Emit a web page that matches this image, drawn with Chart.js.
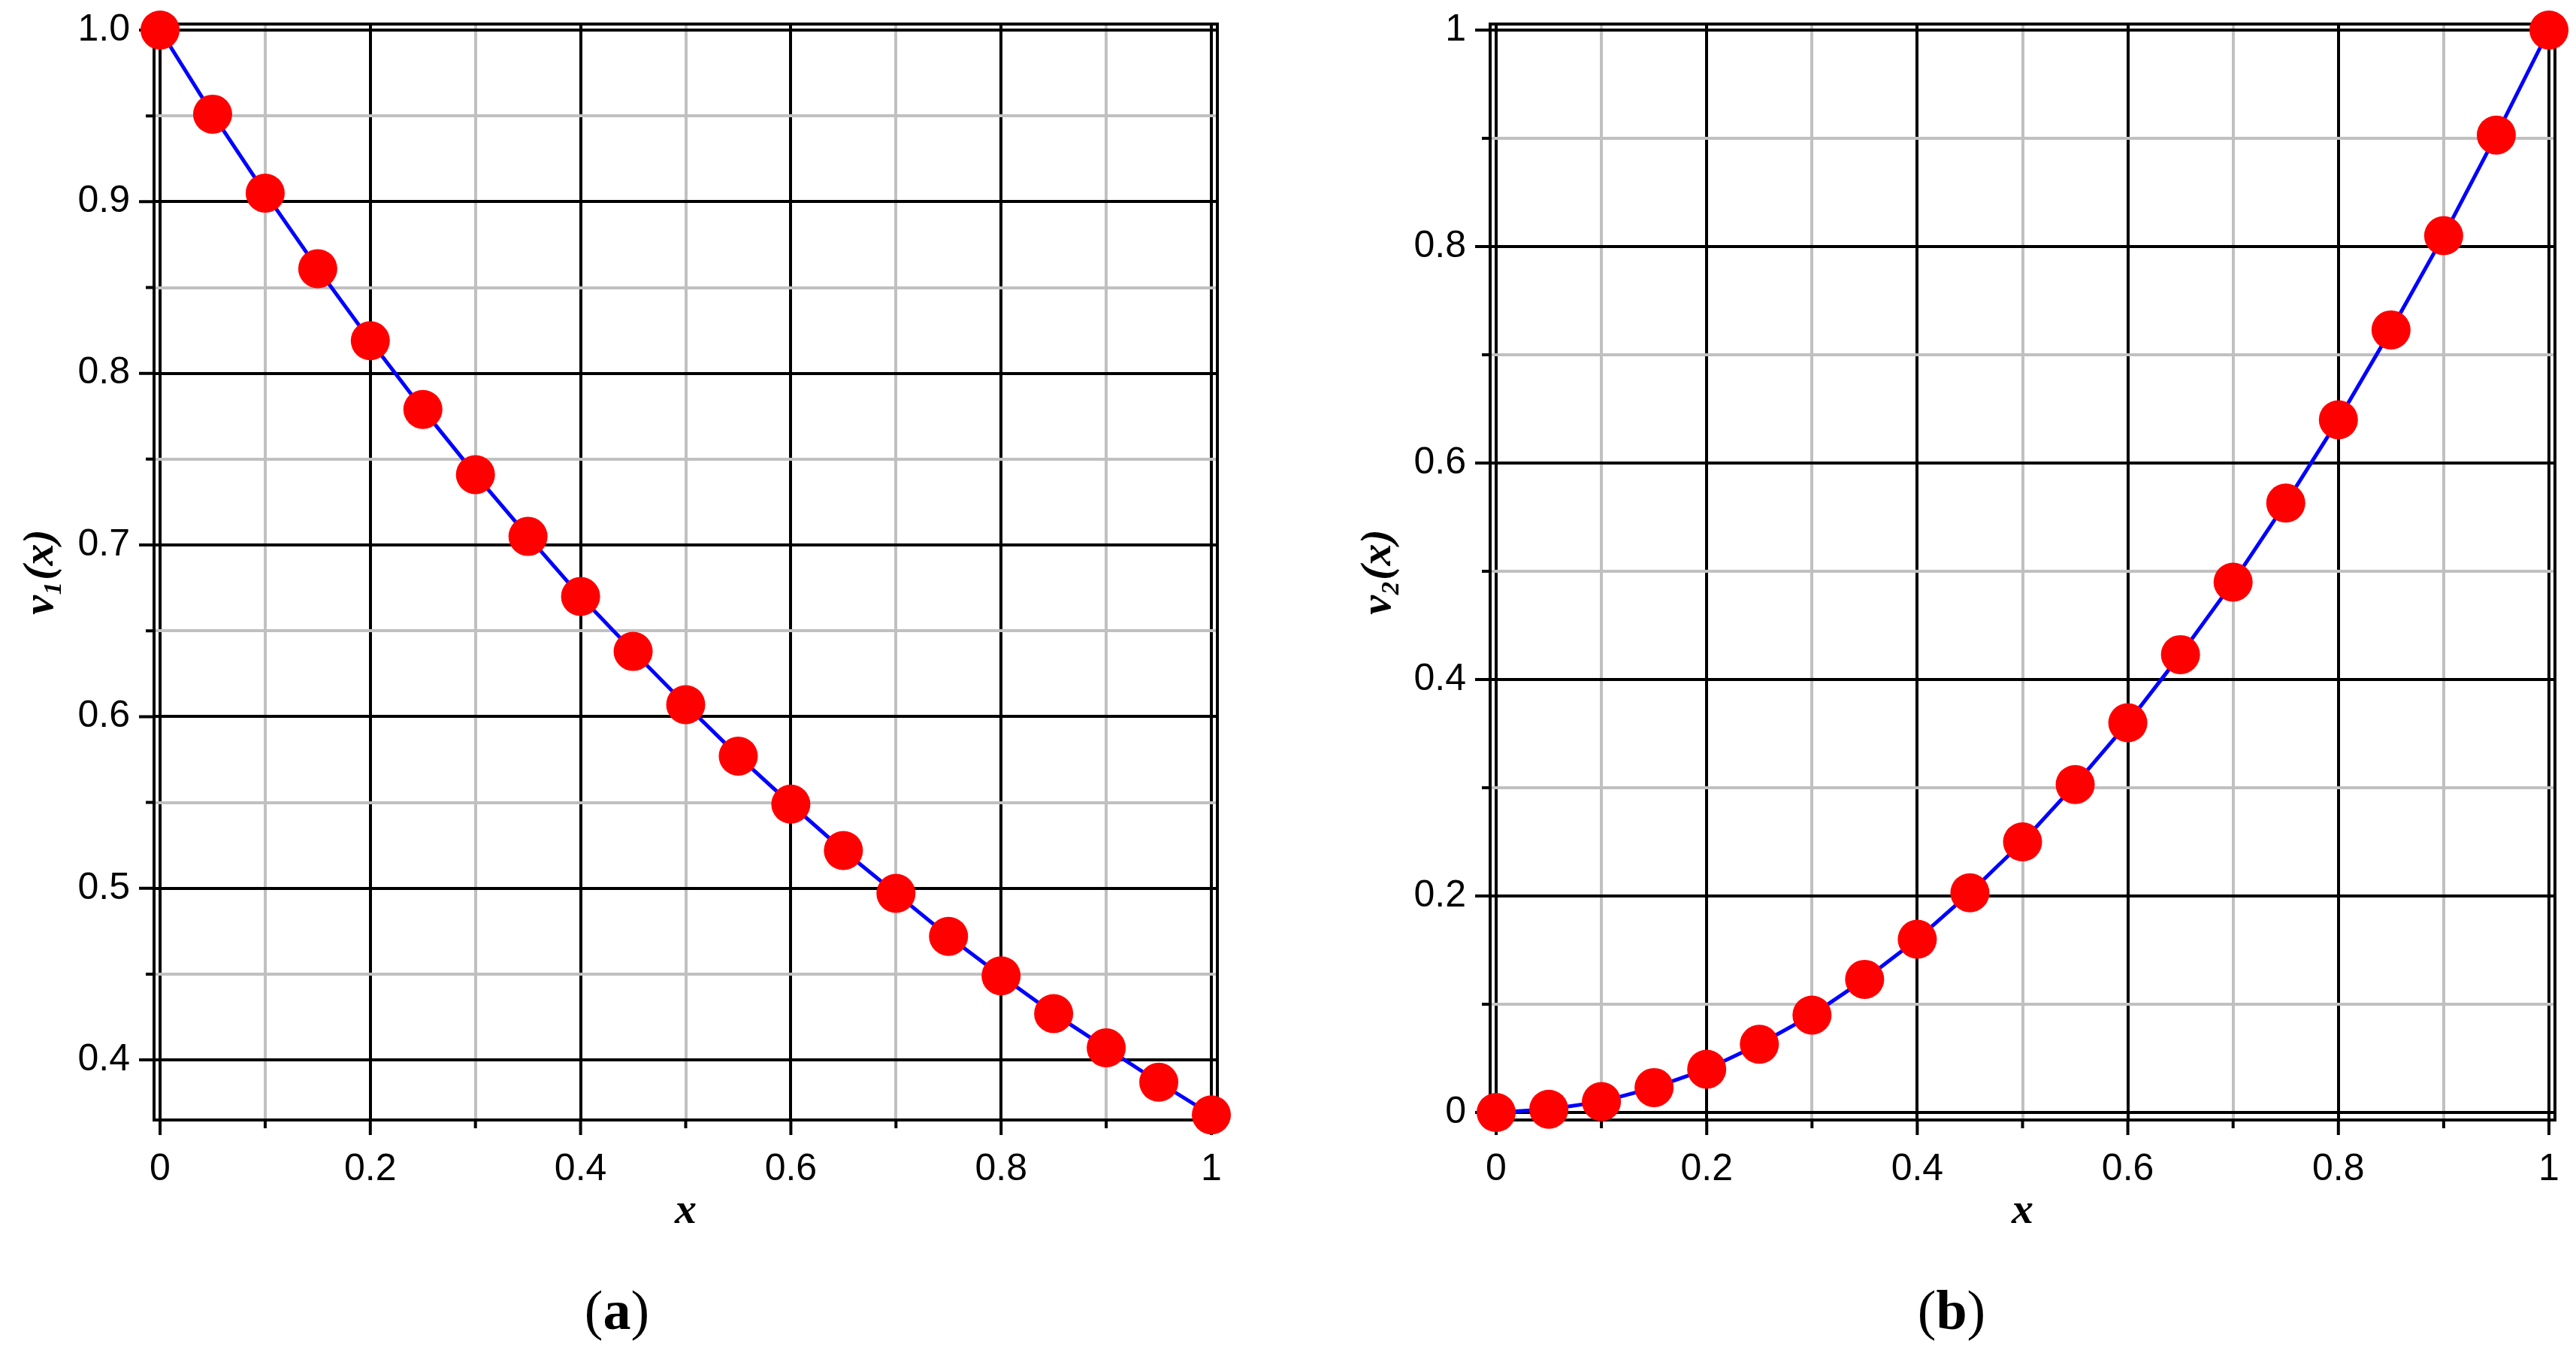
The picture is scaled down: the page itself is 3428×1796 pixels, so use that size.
<!DOCTYPE html>
<html>
<head>
<meta charset="utf-8">
<script src="https://cdn.jsdelivr.net/npm/chart.js@4.4.1/dist/chart.umd.min.js"></script>
<style>
  body { margin: 0; background: #fff; width: 3428px; height: 1796px; position: relative; overflow: hidden; }
  canvas { position: absolute; top: 0; }
  .cap { position: absolute; transform: translate(-50%, -50%); font-family: "Liberation Serif", "DejaVu Serif", serif; font-size: 74px; line-height: 1; color: #000; white-space: nowrap; }
</style>
</head>
<body>
<canvas id="chartA" width="1714" height="1700" style="left:0px"></canvas>
<canvas id="chartB" width="1714" height="1700" style="left:1714px"></canvas>
<div class="cap" style="left:821px; top:1743px">(<b>a</b>)</div>
<div class="cap" style="left:2597px; top:1743px">(<b>b</b>)</div>
<script>
// data
const xs = [0, 0.05, 0.1, 0.15, 0.2, 0.25, 0.3, 0.35, 0.4, 0.45, 0.5, 0.55, 0.6, 0.65, 0.7, 0.75, 0.8, 0.85, 0.9, 0.95, 1];
const v1 = [1.000, 0.951, 0.905, 0.861, 0.819, 0.779, 0.741, 0.705, 0.670, 0.638, 0.607, 0.577, 0.549, 0.522, 0.497, 0.472, 0.449, 0.427, 0.407, 0.387, 0.368];
const v2 = [0.000, 0.003, 0.010, 0.023, 0.040, 0.063, 0.090, 0.123, 0.160, 0.203, 0.250, 0.303, 0.360, 0.423, 0.490, 0.563, 0.640, 0.723, 0.810, 0.903, 1.000];

const xMajor = [0, 0.2, 0.4, 0.6, 0.8, 1];
const xMajorLabels = ['0', '0.2', '0.4', '0.6', '0.8', '1'];
const xMinor = [0.1, 0.3, 0.5, 0.7, 0.9];

const yMajorA = [0.4, 0.5, 0.6, 0.7, 0.8, 0.9, 1.0];
const yMajorLabelsA = ['0.4', '0.5', '0.6', '0.7', '0.8', '0.9', '1.0'];
const yMinorA = [0.45, 0.55, 0.65, 0.75, 0.85, 0.95];

const yMajorB = [0, 0.2, 0.4, 0.6, 0.8, 1];
const yMajorLabelsB = ['0', '0.2', '0.4', '0.6', '0.8', '1'];
const yMinorB = [0.1, 0.3, 0.5, 0.7, 0.9];

const BLACK = '#000000';
const GRAY = '#c0c0c0';
const tickFont = { family: '"Liberation Sans", Arial, sans-serif', size: 50 };
const titleFont = { family: '"Liberation Serif", "DejaVu Serif", serif', size: 58, style: 'italic', weight: 'bold' };

// box around the plot plus the long/short tick marks
const framePlugin = {
  id: 'frame',
  beforeDatasetsDraw(chart) {
    const { ctx, chartArea: a, scales } = chart;
    const mx = chart.options.plugins.frame.xMajor;
    const my = chart.options.plugins.frame.yMajor;
    ctx.save();
    ctx.strokeStyle = BLACK;
    ctx.lineWidth = 4;
    ctx.strokeRect(a.left, a.top, a.right - a.left, a.bottom - a.top);
    ctx.beginPath();
    scales.x.ticks.forEach(t => {
      const px = scales.x.getPixelForValue(t.value);
      const len = mx.includes(t.value) ? 20 : 11;
      ctx.moveTo(px, a.bottom);
      ctx.lineTo(px, a.bottom + len);
    });
    scales.y.ticks.forEach(t => {
      const py = scales.y.getPixelForValue(t.value);
      const len = my.includes(t.value) ? 20 : 11;
      ctx.moveTo(a.left, py);
      ctx.lineTo(a.left - len, py);
    });
    ctx.stroke();
    ctx.restore();
  }
};

function noOverflow(s) {
  s.paddingTop = 0; s.paddingBottom = 0; s.paddingLeft = 0; s.paddingRight = 0;
}

function makeChart(id, ys, o) {
  const points = xs.map((x, i) => ({ x: x, y: ys[i] }));
  const xAll = xMajor.concat(xMinor).sort((a, b) => a - b);
  const yAll = o.yMajor.concat(o.yMinor).sort((a, b) => a - b);
  return new Chart(document.getElementById(id), {
    type: 'scatter',
    data: {
      datasets: [{
        data: points,
        showLine: true,
        borderColor: '#0000ff',
        borderWidth: 5,
        pointRadius: 26,
        pointBackgroundColor: '#ff0000',
        pointBorderWidth: 0,
        pointHoverRadius: 26,
        clip: false
      }]
    },
    options: {
      responsive: false,
      devicePixelRatio: 1,
      animation: false,
      layout: { padding: { top: 32, right: o.padRight, bottom: 0, left: 0 } },
      plugins: {
        legend: { display: false },
        tooltip: { enabled: false },
        frame: { xMajor: xMajor, yMajor: o.yMajor }
      },
      scales: {
        x: {
          type: 'linear',
          min: o.xMin, max: o.xMax,
          afterBuildTicks: s => { s.ticks = xAll.map(v => ({ value: v })); },
          afterFit: s => { s.height = 210; noOverflow(s); },
          grid: {
            color: c => xMajor.includes(c.tick.value) ? BLACK : GRAY,
            lineWidth: 4,
            drawTicks: false
          },
          border: { display: false },
          ticks: {
            autoSkip: false,
            maxRotation: 0,
            padding: 36,
            color: BLACK,
            font: tickFont,
            callback: v => { const i = xMajor.indexOf(v); return i >= 0 ? xMajorLabels[i] : ''; }
          },
          title: { display: true, text: 'x', color: BLACK, font: titleFont, padding: { top: 0, bottom: 53 } }
        },
        y: {
          type: 'linear',
          min: o.yMin, max: o.yMax,
          afterBuildTicks: s => { s.ticks = yAll.map(v => ({ value: v })); },
          afterFit: s => { s.width = o.yWidth; noOverflow(s); },
          grid: {
            color: c => o.yMajor.includes(c.tick.value) ? BLACK : GRAY,
            lineWidth: 4,
            drawTicks: false
          },
          border: { display: false },
          ticks: {
            autoSkip: false,
            padding: 32,
            color: BLACK,
            font: tickFont,
            callback: v => { const i = o.yMajor.indexOf(v); return i >= 0 ? o.yLabels[i] : ''; }
          },
          title: { display: true, text: o.yTitle, color: BLACK, font: titleFont, padding: { top: o.yTitlePad, bottom: 0 } }
        }
      }
    },
    plugins: [framePlugin]
  });
}

makeChart('chartA', v1, {
  xMin: -8 / 1399, xMax: 1 + 8 / 1399,
  yMin: 0.365, yMax: 1 + 8 / 2283,
  yMajor: yMajorA, yMinor: yMinorA, yLabels: yMajorLabelsA,
  yWidth: 205, padRight: 94, yTitle: 'v\u2081(x)', yTitlePad: 20
});

makeChart('chartB', v2, {
  xMin: -8 / 1401, xMax: 1 + 8 / 1401,
  yMin: -10 / 1440, yMax: 1 + 8 / 1440,
  yMajor: yMajorB, yMinor: yMinorB, yLabels: yMajorLabelsB,
  yWidth: 269, padRight: 28, yTitle: 'v\u2082(x)', yTitlePad: 86
});
</script>
</body>
</html>
